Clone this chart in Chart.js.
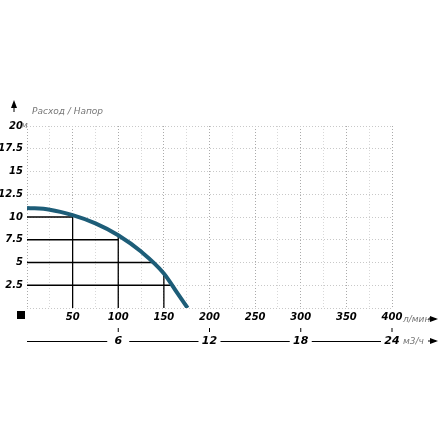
<!DOCTYPE html>
<html><head><meta charset="utf-8">
<script src="https://cdn.jsdelivr.net/npm/chart.js@4"></script>
<style>body{margin:0;background:#fff}#w{width:440px;height:440px}</style>
</head><body><div id="w"><canvas id="c" width="440" height="440"></canvas></div>
<script>
// Кривая насоса: расход (л/мин) / напор (м)
const flowLpm = [0, 25, 50, 75, 100, 125, 150, 165, 176];
const headM = [11.0, 10.8, 10.2, 9.3, 8.0, 6.2, 3.8, 1.6, 0];
const refFlow = [50, 100, 140, 160];
const refHead = [10, 7.5, 5, 2.5];
const dropFlow = [50, 100, 150];
const dropHead = [10.2, 8.0, 3.8];
const m3hTicks = [6, 12, 18, 24];

const font = { family: 'DejaVu Sans', size: 10, weight: 'bold', style: 'italic' };

const datasets = [{
  data: flowLpm.map((x, i) => ({ x, y: headM[i] })),
  borderColor: '#1d5d78', borderWidth: 4, pointRadius: 0,
  cubicInterpolationMode: 'monotone', order: 0
}];
refFlow.forEach((x, i) => datasets.push({
  data: [{ x: 0, y: refHead[i] }, { x, y: refHead[i] }],
  borderColor: '#000', borderWidth: 1.3, pointRadius: 0, order: 1
}));
dropFlow.forEach((x, i) => datasets.push({
  data: [{ x, y: 0 }, { x, y: dropHead[i] }],
  borderColor: '#000', borderWidth: 1.3, pointRadius: 0, order: 1
}));

// подписи, стрелки и вторая ось м3/ч
const extras = {
  id: 'extras',
  afterDraw(ch) {
    const c = ch.ctx, xs = ch.scales.x, ys = ch.scales.y, a = ch.chartArea;
    const y1 = a.bottom + 11, y2 = a.bottom + 33;
    c.save();
    c.font = 'italic 9px DejaVu Sans'; c.fillStyle = '#777';
    c.textBaseline = 'middle';
    c.fillText('Расход / Напор', 32, a.top - 14);
    c.fillText('м', 21, ys.getPixelForValue(20));
    c.fillText('л/мин', xs.right + 11, y1 + 1);
    c.fillText('м3/ч', xs.right + 11, y2 + 1);
    c.fillStyle = '#000';
    // стрелка вверх
    c.beginPath(); c.moveTo(14, a.top - 26); c.lineTo(11, a.top - 18); c.lineTo(17, a.top - 18); c.fill();
    c.fillRect(13.5, a.top - 19, 1, 5);
    // квадрат в начале
    c.fillRect(17, a.bottom + 3, 8, 8);
    // вторая ось
    c.font = 'italic bold 11px DejaVu Sans'; c.textAlign = 'center';
    let prev = 27;
    m3hTicks.forEach(v => {
      const px = xs.getPixelForValue(v / 0.06);
      c.fillText(String(v), px, y2);
      c.fillRect(px - 0.5, y2 - 13, 1, 4);
      c.fillRect(prev, y2, px - 11 - prev, 1);
      prev = px + 11;
    });
    // стрелки справа
    [y1, y2].forEach(y => {
      c.fillRect(xs.right + 36, y - 0.5, 8, 1);
      c.beginPath(); c.moveTo(438, y); c.lineTo(430, y - 3); c.lineTo(430, y + 3); c.fill();
    });
    c.restore();
  }
};

new Chart(document.getElementById('c'), {
  type: 'line',
  data: { datasets },
  plugins: [extras],
  options: {
    responsive: false, animation: false,
    layout: { padding: { top: 126, right: 48, bottom: 110, left: 0 } },
    plugins: { legend: { display: false }, tooltip: { enabled: false } },
    scales: {
      x: {
        type: 'linear', min: 0, max: 400,
        afterFit: s => { s.height = 22; },
        ticks: { stepSize: 25, autoSkip: false, maxRotation: 0, color: '#000', font,
          callback: v => (v > 0 && v % 50 === 0) ? String(v) : '' },
        grid: { color: ctx => ctx.tick.value % 50 === 0 ? '#aaa' : '#d8d8d8',
          lineWidth: 1, drawTicks: false },
        border: { display: false, dash: [1, 2] }
      },
      y: {
        min: 0, max: 20,
        afterFit: s => { s.width = 27; },
        ticks: { stepSize: 2.5, color: '#000', font, padding: 4,
          callback: v => v > 0 ? String(v) : '' },
        grid: { color: '#c8c8c8', drawTicks: false },
        border: { display: false, dash: [1, 2] }
      }
    }
  }
});
</script></body></html>
